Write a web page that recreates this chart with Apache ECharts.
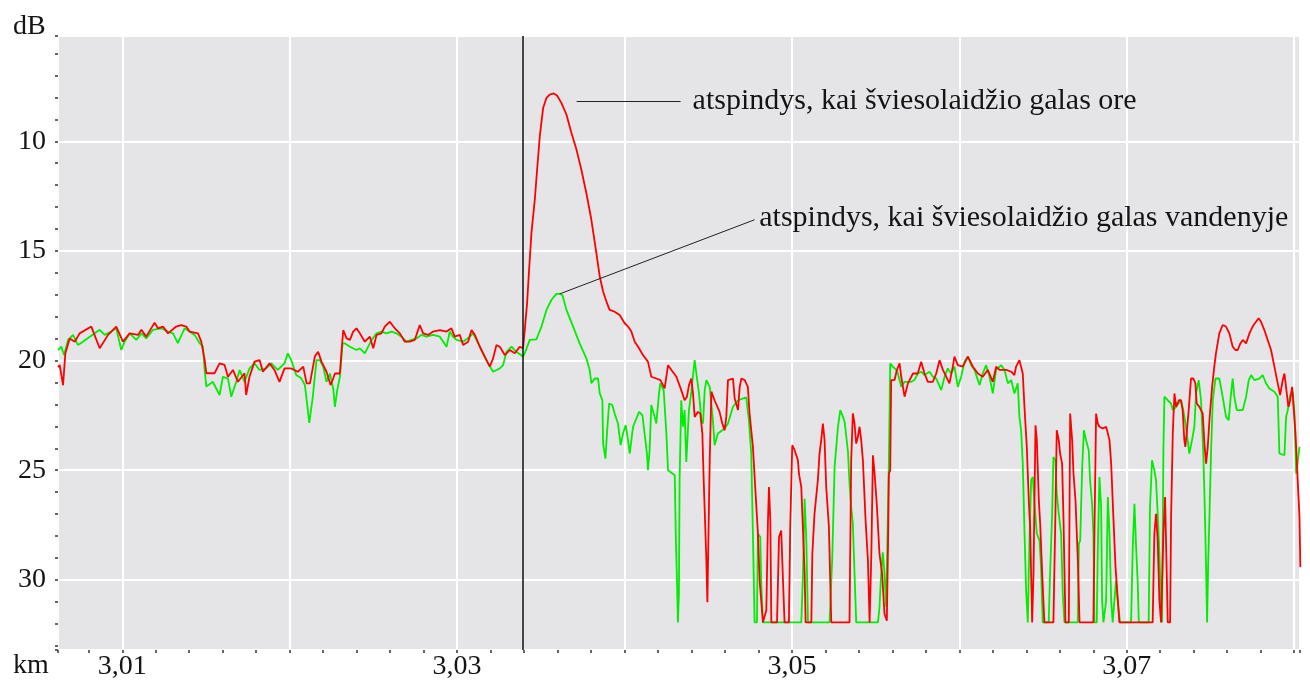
<!DOCTYPE html>
<html>
<head>
<meta charset="utf-8">
<script src="https://cdn.jsdelivr.net/npm/echarts@6/dist/echarts.min.js"></script>
<style>html,body{margin:0;padding:0;background:#fff;}#chart{width:1310px;height:687px;}</style>
</head>
<body>
<div id="chart"></div>
<script>
// ---- axis ranges & labels ----
const xMin = 3.00616, xMax = 3.08035;   // km
const yMin = 5.2, yMax = 33.2;          // dB (inverted axis)
const xTickLabels = ['3,01', '3,03', '3,05', '3,07'];
const yTickLabels = ['10', '15', '20', '25', '30'];
const xAxisName = 'km';
const yAxisName = 'dB';

// ---- annotations ----
const cursorKm = 3.0339;
const airLabel = 'atspindys, kai šviesolaidžio galas ore';
const waterLabel = 'atspindys, kai šviesolaidžio galas vandenyje';
const airLeader = [[3.03714, 8.16], [3.04335, 8.16]];
const waterLeader = [[3.03613, 16.96], [3.04777, 13.58]];

// ---- traces [km, dB] ----
const redTrace = [
[3.00616,20.3],[3.00626,20.2],[3.00646,21.12],[3.00660,19.67],[3.00686,18.99],[3.00716,19.14],[3.00745,18.76],[3.00815,18.45],[3.00865,19.44],[3.00915,18.83],[3.00964,18.45],[3.01004,19.14],[3.01044,18.76],[3.01094,18.83],[3.01114,18.60],[3.01143,18.91],[3.01193,18.27],[3.01213,18.53],[3.01243,18.45],[3.01273,18.76],[3.01322,18.45],[3.01352,18.38],[3.01382,18.45],[3.01402,18.68],[3.01452,18.76],[3.01472,19.14],[3.01492,19.98],[3.01502,20.58],[3.01551,20.58],[3.01581,20.13],[3.01611,20.2],[3.01631,20.74],[3.01661,20.43],[3.01691,20.97],[3.01730,20.58],[3.01740,21.57],[3.01760,20.74],[3.01790,20.05],[3.01820,19.98],[3.01840,20.51],[3.01880,20.13],[3.01909,20.43],[3.01939,20.97],[3.01969,20.36],[3.02009,20.36],[3.02049,20.51],
[3.02081,20.28],[3.02101,21.04],[3.02121,21.04],[3.02150,19.82],[3.02170,19.60],[3.02190,20.05],[3.02220,20.51],[3.02244,21.12],[3.02260,20.82],[3.02270,20.59],[3.02300,20.59],[3.02310,19.52],[3.02320,18.61],[3.02340,18.99],[3.02360,19.06],[3.02379,18.68],[3.02399,18.53],[3.02419,18.76],[3.02449,19.14],[3.02479,18.91],[3.02499,19.44],[3.02519,18.83],[3.02548,18.76],[3.02568,18.45],[3.02598,18.23],[3.02628,18.53],[3.02658,18.76],[3.02688,19.14],[3.02718,19.14],[3.02747,19.06],[3.02777,18.38],[3.02797,18.76],[3.02827,18.83],[3.02857,18.68],[3.02897,18.61],[3.02937,18.68],[3.02966,18.53],[3.02986,18.91],[3.03016,18.83],[3.03036,19.29],[3.03066,19.14],[3.03086,18.61],[3.03106,18.83],[3.03136,19.37],[3.03165,19.82],[3.03195,20.28],[3.03215,19.90],[3.03235,19.29],[3.03255,19.37],[3.03285,19.75],[3.03315,19.52],[3.03345,19.67],[3.03374,19.37],
[3.03394,19.44],[3.03404,18.61],[3.03418,17.39],[3.03430,15.86],[3.03444,14.19],[3.03464,12.67],[3.03478,11.29],[3.03494,9.77],[3.03514,8.48],[3.03534,8.02],[3.03553,7.87],[3.03577,7.82],[3.03597,7.91],[3.03623,8.25],[3.03653,8.78],[3.03683,9.62],[3.03713,10.38],[3.03742,11.29],[3.03772,12.36],[3.03802,13.58],[3.03832,15.10],
[3.03852,16.17],[3.03872,16.85],[3.03892,17.31],[3.03911,17.69],[3.03941,17.77],[3.03971,17.92],[3.04001,18.30],[3.04021,18.45],[3.04041,18.68],[3.04061,19.14],[3.04081,19.37],[3.04110,19.75],[3.04140,20.05],[3.04160,20.74],[3.04190,20.82],[3.04214,20.89],[3.04240,21.27],[3.04260,20.21],[3.04280,20.43],[3.04310,20.74],[3.04339,21.35],[3.04359,21.81],[3.04373,21.65],[3.04385,21.12],[3.04399,20.82],[3.04409,21.50],[3.04419,22.57],[3.04439,22.34],[3.04453,22.42],[3.04465,23.33],[3.04473,25.46],[3.04489,29.12],[3.04495,31.02],[3.04499,29.12],[3.04509,24.55],[3.04519,21.42],[3.04538,21.81],[3.04568,22.34],[3.04584,22.87],[3.04598,23.18],[3.04608,22.57],[3.04618,20.89],[3.04648,20.82],[3.04658,21.73],[3.04668,21.81],[3.04678,22.26],[3.04688,21.20],[3.04698,20.82],[3.04718,20.89],[3.04737,21.20],[3.04747,22.42],[3.04767,23.94],[3.04783,26.07],[3.04797,27.90],[3.04807,30.03],[3.04827,31.94],[3.04847,31.40],[3.04857,27.29],[3.04863,25.77],[3.04871,27.29],[3.04877,31.94],[3.04911,31.94],[3.04923,28.05],[3.04936,27.75],[3.04946,29.88],[3.04956,31.94],[3.04982,31.94],[3.04990,27.59],[3.05002,23.86],[3.05016,24.09],[3.05036,24.55],
[3.05042,25.16],[3.05056,25.77],[3.05066,27.75],[3.05076,29.73],[3.05082,31.94],[3.05116,31.94],[3.05122,28.81],[3.05135,26.98],[3.05155,25.46],[3.05165,24.24],[3.05175,23.63],[3.05185,22.87],[3.05195,23.63],[3.05205,25.77],[3.05221,27.59],[3.05235,31.94],[3.05344,31.94],[3.05354,24.55],[3.05364,22.41],[3.05374,22.87],[3.05384,23.79],[3.05394,23.48],[3.05404,23.02],[3.05414,23.63],[3.05424,24.55],[3.05440,27.29],[3.05454,29.12],[3.05464,31.94],[3.05474,28.97],[3.05484,24.32],[3.05494,25.16],[3.05508,26.68],[3.05523,28.81],[3.05539,29.73],[3.05553,31.56],[3.05567,31.86],[3.05575,27.90],[3.05579,25.16],[3.05587,25.00],[3.05593,20.89],[3.05613,20.89],[3.05627,20.43],[3.05643,20.13],[3.05653,20.74],[3.05673,21.65],[3.05693,21.04],[3.05723,20.59],[3.05752,20.59],[3.05772,20.05],[3.05792,20.59],[3.05812,20.97],[3.05842,20.97],[3.05862,20.59],[3.05882,19.98],[3.05902,20.43],[3.05922,20.74],[3.05941,21.04],[3.05961,20.28],[3.05971,19.82],[3.05991,20.21],[3.06021,20.28],[3.06051,19.82],[3.06081,20.28],[3.06111,20.59],[3.06140,20.74],[3.06170,20.43],[3.06200,20.97],[3.06220,20.28],[3.06240,20.43],[3.06280,20.43],[3.06310,20.51],[3.06329,20.66],[3.06339,20.28],[3.06359,19.98],[3.06379,20.59],[3.06389,22.11],[3.06403,23.94],[3.06415,26.38],[3.06423,27.59],[3.06435,31.94],[3.06443,29.73],[3.06455,22.95],[3.06463,23.63],[3.06475,26.38],[3.06483,27.44],[3.06495,29.73],[3.06508,31.94],
[3.06562,31.94],[3.06574,26.99],[3.06582,23.18],[3.06594,23.63],[3.06602,24.24],[3.06614,24.70],[3.06622,27.14],[3.06634,31.94],[3.06654,31.94],[3.06662,22.42],[3.06674,23.63],[3.06682,25.16],[3.06694,26.38],[3.06708,29.12],[3.06718,31.94],[3.06801,31.94],[3.06807,27.90],[3.06817,22.42],[3.06827,22.87],[3.06837,23.02],[3.06857,23.10],[3.06877,23.02],[3.06897,23.63],[3.06907,24.70],[3.06921,27.29],[3.06933,29.42],[3.06947,30.95],[3.06956,31.94],[3.07155,31.94],[3.07165,27.90],[3.07175,26.99],[3.07185,28.20],[3.07195,30.95],[3.07205,31.94],[3.07219,27.90],[3.07229,26.22],[3.07239,29.73],[3.07245,31.94],[3.07259,31.94],[3.07265,27.14],[3.07275,23.33],[3.07285,21.50],[3.07295,22.11],[3.07311,21.81],[3.07324,21.81],[3.07334,22.26],[3.07344,23.63],[3.07350,23.94],[3.07358,23.33],[3.07370,22.26],[3.07384,20.82],[3.07398,20.82],[3.07410,21.04],[3.07418,21.96],[3.07434,22.11],[3.07454,22.42],[3.07464,23.79],[3.07474,24.70],[3.07484,23.94],[3.07494,22.72],[3.07510,21.20],[3.07523,20.28],[3.07533,19.67],[3.07553,18.76],[3.07573,18.38],[3.07593,18.45],[3.07613,18.76],[3.07633,19.37],[3.07649,19.52],[3.07663,19.52],[3.07679,19.22],[3.07693,19.06],[3.07713,19.22],[3.07733,18.76],[3.07752,18.45],[3.07772,18.23],[3.07788,18.07],[3.07802,18.23],[3.07822,18.61],[3.07842,19.06],[3.07862,19.52],[3.07882,20.28],[3.07902,21.04],[3.07916,21.58],[3.07932,20.89],[3.07942,20.59],[3.07956,21.50],[3.07966,22.11],[3.07976,21.81],[3.07988,21.20],[3.07996,21.20],[3.08008,23.33],[3.08022,25.61],[3.08032,27.14],[3.08037,29.42]
];

const greenTrace = [
[3.00616,19.52],[3.00636,19.37],[3.00652,19.75],[3.00676,19.06],[3.00706,18.83],[3.00735,19.29],[3.00765,19.14],[3.00835,18.76],[3.00865,18.60],[3.00895,18.83],[3.00934,18.68],[3.00964,18.53],[3.00994,19.52],[3.01014,19.14],[3.01044,18.76],[3.01084,19.06],[3.01114,18.76],[3.01143,18.99],[3.01183,18.60],[3.01233,18.53],[3.01273,18.68],[3.01303,18.76],[3.01332,19.21],[3.01372,18.53],[3.01432,18.83],[3.01462,19.21],[3.01482,19.37],[3.01492,20.43],[3.01502,21.19],[3.01541,20.97],[3.01581,21.57],[3.01601,20.74],[3.01631,20.81],[3.01651,21.65],[3.01681,20.97],[3.01701,20.43],[3.01730,20.97],[3.01760,20.36],[3.01790,20.13],[3.01820,20.43],[3.01860,20.36],[3.01890,20.13],[3.01929,20.43],[3.01969,20.13],[3.01989,19.67],[3.02009,19.98],[3.02039,20.66],[3.02069,20.81],
[3.02091,21.12],[3.02117,22.84],[3.02137,21.73],[3.02160,19.98],[3.02180,19.98],[3.02200,20.28],[3.02220,20.97],[3.02240,20.59],[3.02260,21.27],[3.02270,22.11],[3.02284,21.35],[3.02300,20.74],[3.02316,19.22],[3.02330,19.22],[3.02360,19.37],[3.02399,19.52],[3.02419,19.44],[3.02449,19.67],[3.02489,19.06],[3.02519,18.76],[3.02548,18.68],[3.02578,18.76],[3.02608,18.68],[3.02638,18.76],[3.02668,18.91],[3.02698,19.14],[3.02728,19.06],[3.02757,18.99],[3.02787,18.83],[3.02817,18.91],[3.02857,18.83],[3.02897,18.91],[3.02937,19.37],[3.02956,18.68],[3.02976,18.91],[3.02996,19.06],[3.03036,19.14],[3.03076,18.91],[3.03096,18.76],[3.03116,19.06],[3.03145,19.52],[3.03175,19.98],[3.03215,20.51],[3.03255,20.36],[3.03275,20.21],[3.03295,19.60],[3.03325,19.37],[3.03354,19.60],[3.03394,19.82],[3.03404,19.67],[3.03434,19.06],[3.03474,19.03],
[3.03504,18.45],[3.03534,17.69],[3.03563,17.24],[3.03593,16.96],[3.03613,16.96],
[3.03629,17.01],[3.03653,17.69],[3.03693,18.45],[3.03732,19.22],[3.03772,19.90],[3.03792,20.43],[3.03802,21.04],[3.03822,20.82],[3.03842,20.82],[3.03852,21.50],[3.03868,21.81],[3.03872,23.79],[3.03886,24.47],[3.03898,23.02],[3.03908,21.96],[3.03927,22.03],[3.03941,22.42],[3.03961,22.87],[3.03977,23.86],[3.03991,23.33],[3.04007,22.95],[3.04021,23.63],[3.04031,24.24],[3.04051,23.02],[3.04087,22.34],[3.04107,22.49],[3.04120,23.33],[3.04134,24.24],[3.04140,25.00],[3.04150,24.09],[3.04160,22.03],[3.04180,22.57],[3.04190,22.87],[3.04206,21.50],[3.04214,21.04],[3.04234,21.35],[3.04250,23.33],[3.04260,25.00],[3.04300,25.23],[3.04306,27.90],[3.04314,30.19],[3.04319,31.94],[3.04325,30.64],[3.04329,25.46],[3.04339,21.81],[3.04349,23.02],[3.04359,22.26],[3.04369,24.62],[3.04385,22.26],[3.04399,21.42],[3.04419,19.98],[3.04429,20.59],[3.04445,21.50],[3.04459,22.72],[3.04469,22.87],[3.04479,21.35],[3.04489,20.89],[3.04509,21.20],[3.04528,22.72],[3.04538,23.86],[3.04558,23.33],[3.04598,23.10],[3.04618,22.87],[3.04648,22.11],[3.04678,21.81],[3.04727,21.68],[3.04743,22.72],[3.04757,24.24],[3.04767,27.90],[3.04777,31.94],[3.04791,31.94],[3.04797,27.90],[3.04811,28.05],[3.04817,30.19],[3.04827,31.94],
[3.05056,31.94],[3.05066,29.73],[3.05076,26.30],[3.05086,28.20],[3.05096,31.94],[3.05225,31.94],[3.05241,28.97],[3.05255,24.85],[3.05275,23.02],[3.05289,22.26],[3.05305,22.57],[3.05315,22.80],[3.05325,23.48],[3.05335,24.17],[3.05344,25.61],[3.05354,26.68],[3.05364,27.44],[3.05384,31.94],[3.05514,31.94],[3.05523,31.25],[3.05533,29.73],[3.05543,28.74],[3.05553,29.73],[3.05563,31.25],[3.05569,28.81],[3.05579,24.70],[3.05587,20.13],[3.05603,20.28],[3.05623,20.43],[3.05633,20.59],[3.05653,21.20],[3.05673,20.97],[3.05713,20.97],[3.05732,20.89],[3.05752,20.59],[3.05772,20.51],[3.05792,20.66],[3.05822,20.51],[3.05842,20.74],[3.05862,20.82],[3.05892,21.35],[3.05912,20.74],[3.05931,20.36],[3.05951,20.59],[3.05971,20.28],[3.05991,21.20],[3.06011,20.74],[3.06031,20.05],[3.06051,19.82],[3.06071,20.21],[3.06091,20.43],[3.06121,21.12],[3.06140,20.59],[3.06160,20.21],[3.06180,20.74],[3.06200,21.50],[3.06220,20.43],[3.06250,20.21],[3.06270,20.43],[3.06290,21.04],[3.06310,20.89],[3.06329,21.50],[3.06349,21.04],[3.06359,22.57],[3.06369,23.18],[3.06379,24.70],[3.06389,27.75],[3.06399,30.49],[3.06409,31.94],[3.06419,28.20],[3.06429,25.46],[3.06439,25.31],[3.06449,26.53],[3.06463,27.90],[3.06479,28.20],[3.06488,29.42],[3.06498,31.94],
[3.06534,31.94],[3.06542,29.73],[3.06554,27.14],[3.06562,24.40],[3.06574,24.55],[3.06582,26.07],[3.06594,26.99],[3.06608,27.90],[3.06618,30.64],[3.06628,31.94],[3.06708,31.94],[3.06714,28.36],[3.06722,28.20],[3.06734,24.85],[3.06744,23.18],[3.06757,23.63],[3.06773,24.09],[3.06781,25.46],[3.06793,26.53],[3.06801,27.90],[3.06807,31.94],[3.06821,31.94],[3.06827,28.66],[3.06837,25.31],[3.06847,26.68],[3.06853,30.95],[3.06861,31.94],[3.06877,30.95],[3.06887,26.22],[3.06897,27.90],[3.06907,30.95],[3.06916,31.94],[3.06936,30.03],[3.06946,30.95],[3.06960,31.94],[3.07026,31.94],[3.07036,28.51],[3.07046,26.53],[3.07056,28.51],[3.07066,30.19],[3.07072,31.94],[3.07131,31.94],[3.07139,26.68],[3.07151,24.55],[3.07165,25.01],[3.07175,25.46],[3.07185,26.99],[3.07195,28.81],[3.07205,31.25],[3.07211,31.94],[3.07219,24.09],[3.07225,21.65],[3.07245,21.81],[3.07265,21.96],[3.07275,22.26],[3.07295,22.11],[3.07324,21.81],[3.07338,22.26],[3.07354,23.02],[3.07374,24.24],[3.07390,23.63],[3.07404,23.02],[3.07414,21.50],[3.07430,20.89],[3.07444,21.81],[3.07458,24.40],[3.07464,26.07],[3.07474,29.42],[3.07480,31.94],[3.07486,29.42],[3.07494,27.14],[3.07504,24.09],[3.07514,21.81],[3.07530,20.82],[3.07553,20.82],[3.07573,21.65],[3.07593,22.57],[3.07609,22.72],[3.07623,21.50],[3.07633,20.82],[3.07643,21.65],[3.07657,22.26],[3.07693,22.26],[3.07713,21.65],[3.07729,20.89],[3.07743,20.66],[3.07762,20.89],[3.07792,20.82],[3.07812,20.66],[3.07832,21.04],[3.07852,21.27],[3.07882,21.42],[3.07902,21.65],[3.07912,24.24],[3.07942,24.32],[3.07952,22.57],[3.07962,22.26],[3.07976,21.58],[3.07992,21.42],[3.08002,22.42],[3.08012,25.16],[3.08032,23.94]
];

// ---- styling ----
const FONT = 'Liberation Serif';
const TXT = '#141414';

function xLabel(v) {
  const s = v.toFixed(2).replace('.', ',');
  return (Math.abs(v * 100 - Math.round(v * 100)) < 1e-6 && xTickLabels.indexOf(s) >= 0) ? s : '';
}
function yLabel(v) {
  const s = String(Math.round(v));
  return (Math.abs(v - Math.round(v)) < 1e-6 && yTickLabels.indexOf(s) >= 0) ? s : '';
}

const tickStyle = { color: '#333', width: 1.5 };

const chart = echarts.init(document.getElementById('chart'), null, { renderer: 'canvas' });
chart.setOption({
  animation: false,
  backgroundColor: '#ffffff',
  grid: { left: 58, right: 10, top: 36, bottom: 37, show: true, backgroundColor: '#e5e5e8', borderWidth: 0 },
  xAxis: {
    type: 'value', min: xMin, max: xMax, splitNumber: 7,
    axisLine: { show: false },
    axisTick: { show: true, length: 3, lineStyle: tickStyle },
    minorTick: { show: true, splitNumber: 5, length: 3, lineStyle: tickStyle },
    splitLine: { show: true, lineStyle: { color: '#ffffff', width: 2 } },
    axisLabel: { formatter: xLabel, fontFamily: FONT, fontSize: 28, color: TXT, margin: 3, showMinLabel: false, showMaxLabel: false }
  },
  yAxis: {
    type: 'value', inverse: true, min: yMin, max: yMax, splitNumber: 5,
    axisLine: { show: false },
    axisTick: { show: true, length: 3, lineStyle: tickStyle },
    minorTick: { show: true, splitNumber: 5, length: 3, lineStyle: tickStyle },
    splitLine: { show: true, lineStyle: { color: '#ffffff', width: 2 } },
    axisLabel: { formatter: yLabel, fontFamily: FONT, fontSize: 28, color: TXT, margin: 12, showMinLabel: false, showMaxLabel: false }
  },
  graphic: [
    { type: 'text', left: 13, top: 13, style: { text: yAxisName, font: '28px "Liberation Serif"', fill: TXT } },
    { type: 'text', left: 13, top: 652, style: { text: xAxisName, font: '28px "Liberation Serif"', fill: TXT } }
  ],
  series: [
    {
      name: 'vandenyje', type: 'line', data: greenTrace, symbol: 'none', showSymbol: false,
      lineStyle: { color: '#00ee00', width: 1.8 }, itemStyle: { color: '#00ee00' }, z: 2,
      markLine: {
        silent: true, symbol: ['none', 'none'], animation: false, precision: 6,
        lineStyle: { color: '#222', width: 1, type: 'solid' },
        data: [[
          { coord: waterLeader[0], label: { show: true, position: 'end', distance: 5, formatter: waterLabel, fontFamily: FONT, fontSize: 30, color: TXT } },
          { coord: waterLeader[1] }
        ]]
      }
    },
    {
      name: 'ore', type: 'line', data: redTrace, symbol: 'none', showSymbol: false,
      lineStyle: { color: '#ff0000', width: 1.8 }, itemStyle: { color: '#ff0000' }, z: 3,
      markLine: {
        silent: true, symbol: ['none', 'none'], animation: false, precision: 6,
        label: { show: false },
        lineStyle: { color: '#111', width: 1.5, type: 'solid' },
        data: [
          { xAxis: cursorKm },
          [
            { coord: airLeader[0], lineStyle: { width: 1, color: '#222' }, label: { show: true, position: 'end', distance: 12, formatter: airLabel, fontFamily: FONT, fontSize: 30, color: TXT } },
            { coord: airLeader[1] }
          ]
        ]
      }
    }
  ]
});
</script>
</body>
</html>
